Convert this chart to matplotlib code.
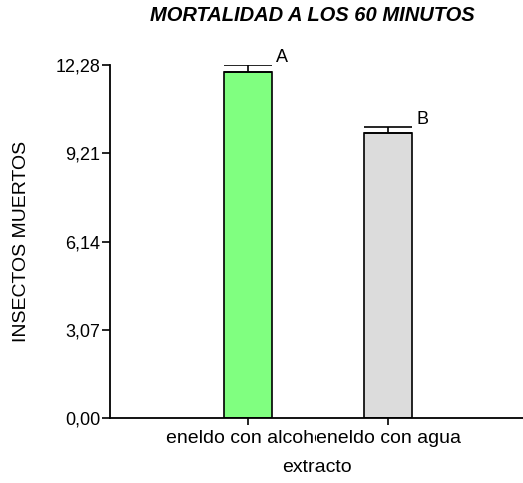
import numpy as np
import matplotlib
matplotlib.use("Agg")
import matplotlib.pyplot as plt

plt.rcParams['font.family'] = ['Liberation Sans', 'DejaVu Sans']

# data
categories = ["eneldo con alcohol", "eneldo con agua"]
means = [12.04, 9.92]
errors = [0.24, 0.20]
letters = ["A", "B"]
bar_colors = ["#80ff80", "#dcdcdc"]
yticks = [0.00, 3.07, 6.14, 9.21, 12.28]

fig = plt.figure(figsize=(5.23, 4.83), dpi=100)
ax = fig.add_axes([0.2103, 0.1346, 0.7897, 0.7308])

x = np.arange(len(categories))
ax.bar(x, means, width=0.34, color=bar_colors, edgecolor="black", linewidth=1.2, zorder=2)
ax.errorbar(x, means, yerr=[np.zeros(len(errors)), errors], fmt="none",
            ecolor="black", elinewidth=1.2, capsize=17.5, capthick=1.2, zorder=3)
for xi, m, e, lab in zip(x, means, errors, letters):
    ax.text(xi + 0.2, m + e - 0.02, lab, ha="left", va="bottom", fontsize=13)

ax.set_xlim(-0.986, 1.964)
ax.set_ylim(0, 12.28)
ax.set_yticks(yticks)
ax.set_yticklabels([f"{v:.2f}".replace(".", ",") for v in yticks], fontsize=13)
ax.set_xticks(x)
ax.set_xticklabels(categories, fontsize=14)
# the second label sits over the end of the first one, as in the original
ax.get_xticklabels()[1].set_bbox(dict(facecolor="white", edgecolor="none", pad=0))

ax.spines["top"].set_visible(False)
ax.spines["right"].set_visible(False)
ax.spines["left"].set_linewidth(1.3)
ax.spines["bottom"].set_linewidth(1.3)
ax.tick_params(axis="y", length=6, width=1.2, pad=1)
ax.tick_params(axis="x", length=5, width=1.2, pad=4)

ax.set_xlabel("extracto", fontsize=14, labelpad=8)
ax.set_ylabel("INSECTOS MUERTOS", fontsize=14, labelpad=18)
fig.text(0.598, 0.968, "MORTALIDAD A LOS 60 MINUTOS", ha="center", va="center",
         fontsize=14.5, fontweight="bold", fontstyle="italic")

fig.savefig("out.png", dpi=100)
